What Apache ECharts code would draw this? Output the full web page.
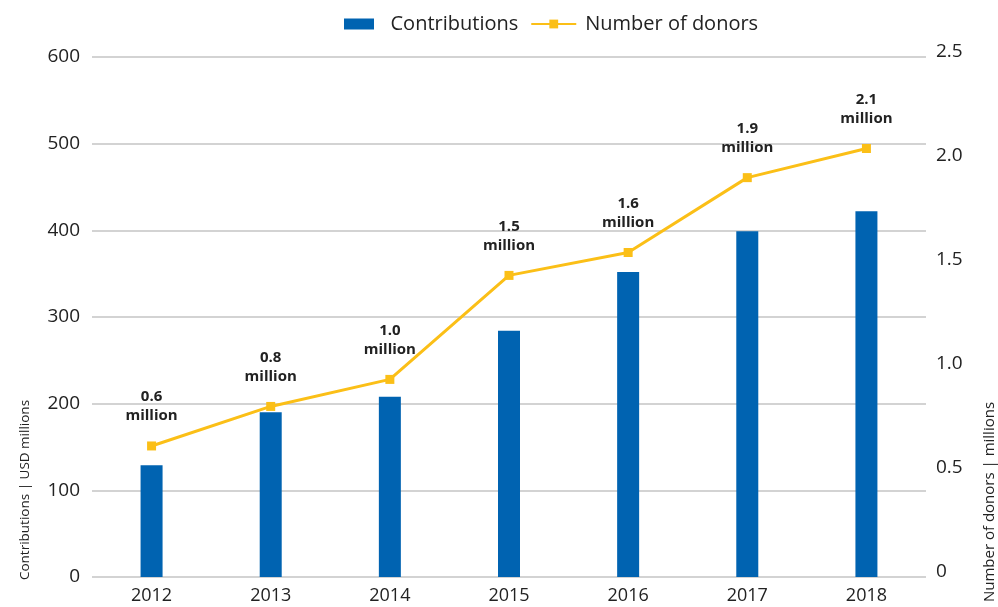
<!DOCTYPE html>
<html>
<head>
<meta charset="utf-8">
<script src="https://cdn.jsdelivr.net/npm/echarts@6/dist/echarts.min.js"></script>
<style>html,body{margin:0;padding:0;background:#fff}#c{width:998px;height:607px}</style>
</head>
<body>
<div id="c"></div>
<script>
var years = ['2012','2013','2014','2015','2016','2017','2018'];
var contributions = [129, 190, 208, 284, 352, 399, 422];
var donors = [0.63, 0.82, 0.95, 1.45, 1.56, 1.92, 2.06];
var donorLabels = ['0.6', '0.8', '1.0', '1.5', '1.6', '1.9', '2.1'];
var leftTicks = [0, 100, 200, 300, 400, 500, 600];
var rightTicks = [0, 0.5, 1.0, 1.5, 2.0, 2.5];

var FONT = '"Open Sans", sans-serif';
var chart = echarts.init(document.getElementById('c'));
chart.setOption({
  animation: false,
  textStyle: {fontFamily: FONT},
  legend: {
    top: 9, left: 339,
    itemGap: 12, itemWidth: 45, itemHeight: 11, symbolKeepAspect: true,
    textStyle: {fontSize: 20, color: '#222', fontFamily: FONT, padding: [0,0,0,4]},
    data: [{name: 'Contributions', icon: 'path://M0,0h30v11h-30z'}, {name: 'Number of donors'}]
  },
  grid: {left: 92, right: 72, top: 57, bottom: 30},
  xAxis: {
    type: 'category', data: years,
    axisLine: {show: false}, axisTick: {show: false},
    axisLabel: {fontSize: 18, color: '#222', margin: 10, fontFamily: FONT}
  },
  yAxis: [{
    type: 'value', min: 0, max: 600, interval: 100,
    axisLine: {show: false}, axisTick: {show: false},
    axisLabel: {fontSize: 19, color: '#222', margin: 12, fontFamily: FONT,
      formatter: function(v){ return leftTicks.indexOf(v) >= 0 ? String(v) : ''; }},
    splitLine: {lineStyle: {color: '#c4c4c4', width: 1.5}}
  }, {
    type: 'value', min: 0, max: 2.5, interval: 0.5,
    axisLine: {show: false}, axisTick: {show: false}, splitLine: {show: false},
    axisLabel: {fontSize: 19, color: '#222', margin: 10, fontFamily: FONT,
      verticalAlign: 'bottom', lineHeight: 10,
      formatter: function(v){ var i = rightTicks.findIndex(function(t){return Math.abs(t-v)<1e-9;}); return i<0?'':(v===0?'0':v.toFixed(1)); }}
  }],
  series: [{
    name: 'Contributions', type: 'bar', data: contributions,
    barWidth: 22, itemStyle: {color: '#0063b1'}
  }, {
    name: 'Number of donors', type: 'line', yAxisIndex: 1, data: donors,
    symbol: 'rect', symbolSize: 9,
    lineStyle: {color: '#fbbf17', width: 3},
    itemStyle: {color: '#fbbf17'},
    label: {
      show: true, position: 'top', distance: 16,
      fontSize: 15, fontWeight: 'bold', color: '#222', lineHeight: 19, fontFamily: FONT,
      formatter: function(p){ return donorLabels[p.dataIndex] + '\nmillion'; }
    }
  }],
  graphic: [{
    type: 'text', x: 25, y: 490, rotation: Math.PI/2,
    style: {text: 'Contributions | USD millions', fontSize: 13.5, fill: '#222', fontFamily: FONT,
      textAlign: 'center', textVerticalAlign: 'middle'}
  }, {
    type: 'text', x: 990, y: 502, rotation: Math.PI/2,
    style: {text: 'Number of donors | millions', fontSize: 15, fill: '#222', fontFamily: FONT,
      textAlign: 'center', textVerticalAlign: 'middle'}
  }]
});
</script>
</body>
</html>
